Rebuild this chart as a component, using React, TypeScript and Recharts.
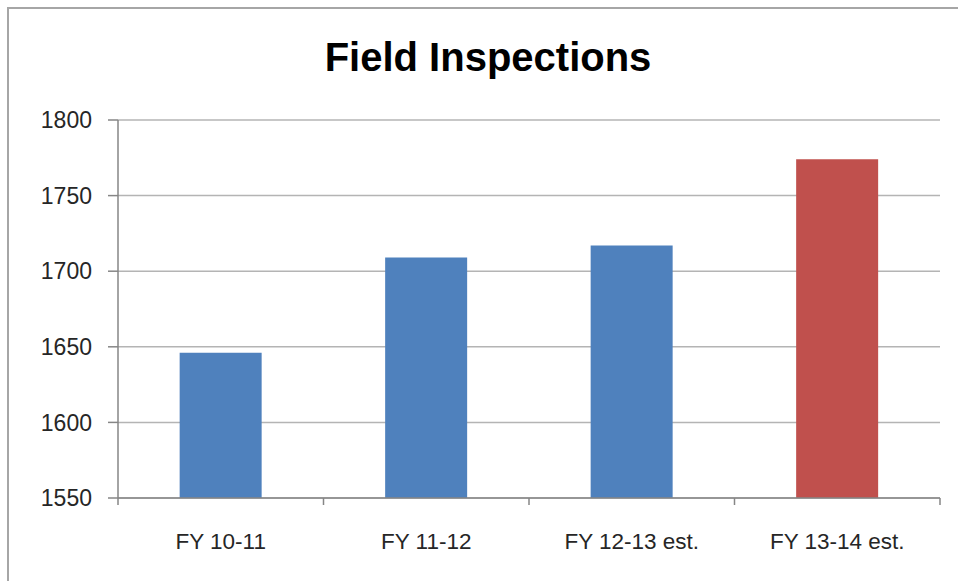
import React from "react";
import { BarChart, Bar, Cell, XAxis, YAxis, CartesianGrid } from "recharts";

const categories = ["FY 10-11", "FY 11-12", "FY 12-13 est.", "FY 13-14 est."];
const inspections = [1646, 1709, 1717, 1774];
const barColors = ["#4F81BD", "#4F81BD", "#4F81BD", "#C0504D"];
const yTicks = [1550, 1600, 1650, 1700, 1750, 1800];

const data = categories.map((name, i) => ({ name, value: inspections[i] }));

const font = "'Liberation Sans', Arial, sans-serif";
const axisGray = "#868686";

// category label plus Excel-style tick marks between the categories
const CategoryTick = (props: any) => {
  const { x, y, payload, index } = props;
  const half = payload.offset || 0;
  const isLast = index === categories.length - 1;
  return (
    <g>
      <line x1={x - half} x2={x - half} y1={y} y2={y + 7} stroke={axisGray} strokeWidth={1.5} />
      {isLast && (
        <line x1={x + half} x2={x + half} y1={y} y2={y + 7} stroke={axisGray} strokeWidth={1.5} />
      )}
      <text
        x={x}
        y={y + 51}
        textAnchor="middle"
        fill="#262626"
        fontSize={22.5}
        fontFamily={font}
      >
        {payload.value}
      </text>
    </g>
  );
};

const App = () => {
  return (
    <div
      style={{
        position: "absolute",
        left: 0,
        top: 0,
        width: 958,
        height: 581,
        background: "#fff",
        fontFamily: font,
        overflow: "hidden",
      }}
    >
      {/* outer chart frame (only top/left visible in the crop) */}
      <div
        style={{
          position: "absolute",
          left: 7,
          top: 7,
          width: 1000,
          height: 1000,
          border: "2px solid #a6a6a6",
        }}
      />
      <div
        style={{
          position: "absolute",
          left: 288,
          top: 35,
          width: 400,
          textAlign: "center",
          fontSize: 40,
          fontWeight: "bold",
          color: "#000",
        }}
      >
        Field Inspections
      </div>

      <BarChart
        width={958}
        height={581}
        data={data}
        barCategoryGap="30%"
        margin={{ top: 120, right: 18, left: 38, bottom: 23 }}
      >
        <CartesianGrid vertical={false} stroke="#b4b4b4" strokeWidth={1.5} />
        <XAxis
          dataKey="name"
          height={60}
          tickLine={false}
          tickSize={0}
          tickMargin={0}
          interval={0}
          axisLine={{ stroke: axisGray, strokeWidth: 1.5 }}
          tick={<CategoryTick />}
        />
        <YAxis
          width={80}
          domain={[1550, 1800]}
          ticks={yTicks}
          tickSize={10}
          tickMargin={16}
          axisLine={{ stroke: axisGray, strokeWidth: 1.5 }}
          tickLine={{ stroke: axisGray, strokeWidth: 1.5 }}
          tick={{ fill: "#262626", fontSize: 23, fontFamily: font }}
        />
        <Bar dataKey="value" isAnimationActive={false}>
          {data.map((d, i) => (
            <Cell key={d.name} fill={barColors[i]} />
          ))}
        </Bar>
      </BarChart>
    </div>
  );
};

export default App;
